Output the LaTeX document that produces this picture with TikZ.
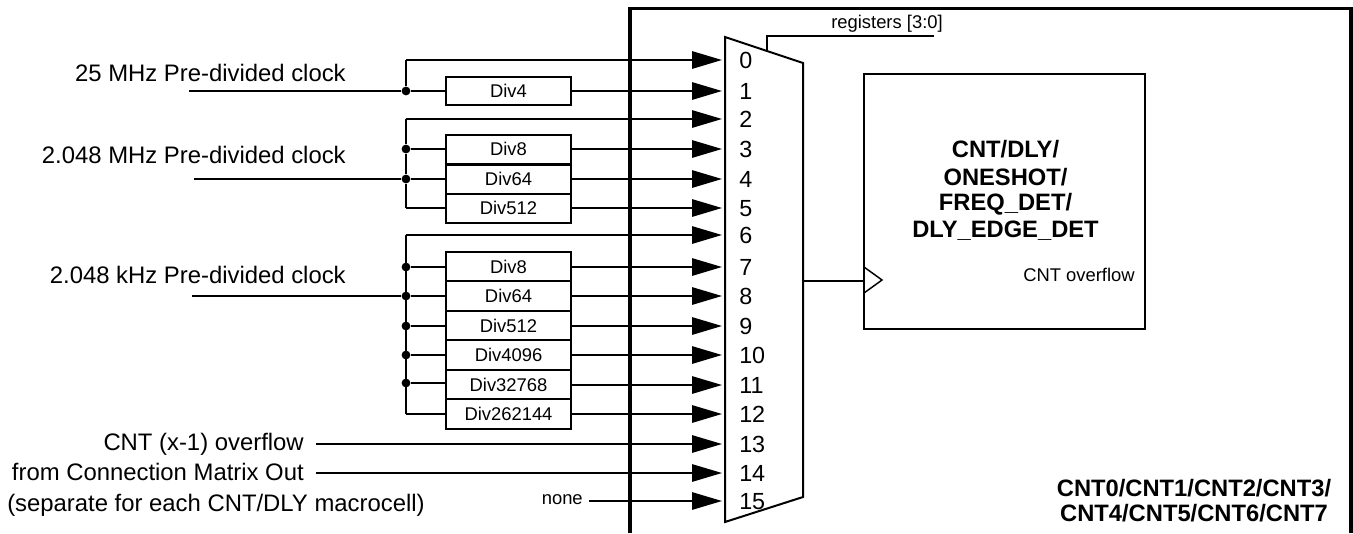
\documentclass[tikz,border=0pt]{standalone}
\usepackage{fontspec}
\setmainfont{Liberation Sans}
\usetikzlibrary{arrows.meta}
\tikzset{
  x=0.75pt,y=-0.75pt,
  wire/.style={line width=1.5pt},
  feed/.style={wire,-{Triangle[length=22.5pt,width=13pt]}},
  frame/.style={line width=2.7pt},
  lab/.style={inner sep=0pt,font=\fontsize{17.9pt}{21pt}\selectfont},
  small/.style={inner sep=0pt,font=\fontsize{13.8pt}{16pt}\selectfont},
  pin/.style={inner sep=0pt,anchor=base west,font=\fontsize{17.5pt}{20pt}\selectfont},
  bold/.style={inner sep=0pt,anchor=base,font=\fontsize{17.8pt}{19.6pt}\selectfont\bfseries},
  divbox/.style={draw,wire,fill=white,inner sep=0pt,minimum width=93.75pt,font=\fontsize{13.8pt}{16pt}\selectfont},
  dot/.style={circle,fill=black,inner sep=0pt,minimum size=6.6pt},
}
\begin{document}
\begin{tikzpicture}
\useasboundingbox (0,0) rectangle (1353,533);
% frame
\coordinate (fa) at (630,533);
\coordinate (fb) at (630,8.5);
\coordinate (fc) at (1351,8.5);
\coordinate (fd) at (1351,533);
\draw[frame] (fa) -- (fb) -- (fc) -- (fd);
% pins on the multiplexer
\foreach \n/\y in {0/60,1/91,2/119,3/149,4/179,5/208,6/235,7/267,8/296,9/326,10/355,11/385,12/414,13/444,14/473,15/501}{
  \coordinate (in\n) at (722,\y);
  \node[pin] (pl\n) at (739,\y+8) {\n};
}
% multiplexer
\coordinate (ma) at (725,37);
\coordinate (mb) at (803,63);
\coordinate (mc) at (803,497);
\coordinate (md) at (725,522);
\coordinate (mo) at (803,281);
\draw[wire] (ma) -- (mb) -- (mc) -- (md) -- cycle;
% select
\coordinate (selb) at (767,50);
\coordinate (selc) at (767,36);
\coordinate (seld) at (934,36);
\draw[line width=1.2pt] (selb) -- (selc) -- (seld);
\node[small] (regs) at (887,24) {registers [3:0]};
% core block
\node[draw,wire,inner sep=0pt,minimum width=210.75pt,minimum height=191.25pt] (core) at (1004,201) {};
\coordinate (clkt) at (864,267);
\coordinate (clktip) at (882,280);
\coordinate (clkb) at (864,293);
\draw[line width=1.1pt] (clkt) -- (clktip) -- (clkb);
\coordinate (clkin) at (864,281);
\draw[wire] (mo) -- (clkin);
\node[bold] (ct1) at (1005.5,157) {CNT/DLY/};
\node[bold] (ct2) at (1005.5,185) {ONESHOT/};
\node[bold] (ct3) at (1005.5,210) {FREQ\_DET/};
\node[bold] (ct4) at (1005.5,237) {DLY\_EDGE\_DET};
\node[small,anchor=base] (ovf) at (1079,281) {CNT overflow};
\node[bold] (name1) at (1194,496) {CNT0/CNT1/CNT2/CNT3/};
\node[bold] (name2) at (1194,521) {CNT4/CNT5/CNT6/CNT7};
% group 1
\node[lab,anchor=base east] (l25) at (346,81) {25 MHz Pre-divided clock};
\coordinate (s25) at (189,91);
\coordinate (b0) at (406,60);
\node[dot] (j1) at (406,91) {};
\node[divbox,minimum height=21pt] (d1) at (508.5,91) {Div4};
\draw[feed] (b0) -- (in0);
\draw[wire] (s25) -- (j1) -- (d1);
\draw[wire] (j1) -- (b0);
\draw[feed] (d1) -- (in1);
% group 2
\node[lab,anchor=base east] (l2m) at (346,163) {2.048 MHz Pre-divided clock};
\coordinate (s2m) at (194,179);
\coordinate (b2) at (406,119);
\coordinate (b5) at (406,208);
\node[dot] (j3) at (406,149) {};
\node[dot] (j4) at (406,179) {};
\draw[wire] (b2) -- (j3) -- (j4) -- (b5);
\draw[feed] (b2) -- (in2);
\foreach \n/\t/\y in {3/Div8/149,4/Div64/179,5/Div512/208}{
  \node[divbox,minimum height=21.75pt] (d\n) at (508.5,\y) {\t};
  \draw[feed] (d\n) -- (in\n);
}
\draw[wire] (s2m) -- (j4) -- (d4);
\draw[wire] (j3) -- (d3);
\draw[wire] (b5) -- (d5);
% group 3
\node[lab,anchor=base east] (l2k) at (346,283) {2.048 kHz Pre-divided clock};
\coordinate (s2k) at (192,296);
\coordinate (b6) at (406,235);
\coordinate (b12) at (406,414);
\node[dot] (j7) at (406,267) {};
\node[dot] (j8) at (406,296) {};
\node[dot] (j9) at (406,326) {};
\node[dot] (j10) at (406,355) {};
\node[dot] (j11) at (406,383) {};
\draw[wire] (b6) -- (b12);
\draw[feed] (b6) -- (in6);
\foreach \n/\t/\y in {7/Div8/267,8/Div64/296,9/Div512/326,10/Div4096/355,11/Div32768/385,12/Div262144/414}{
  \node[divbox,minimum height=22pt] (d\n) at (508.5,\y) {\t};
  \draw[feed] (d\n) -- (in\n);
}
\draw[wire] (s2k) -- (j8) -- (d8);
\draw[wire] (j7) -- (d7);
\draw[wire] (j9) -- (d9);
\draw[wire] (j10) -- (d10);
\draw[wire] (j11) -- (j11-|d11.west);
\draw[wire] (b12) -- (d12);
% other inputs
\node[lab,anchor=base east] (l13) at (304,450) {CNT (x-1) overflow};
\node[lab,anchor=base east] (l14) at (304,480) {from Connection Matrix Out};
\node[lab,anchor=base west] (l14b) at (7,511) {(separate for each CNT/DLY macrocell)};
\node[small,anchor=east] (l15) at (583,500) {none};
\coordinate (s13) at (316,444);
\coordinate (s14) at (316,473);
\coordinate (s15) at (589,501);
\draw[feed] (s13) -- (in13);
\draw[feed] (s14) -- (in14);
\draw[feed] (s15) -- (in15);
\end{tikzpicture}
\end{document}
